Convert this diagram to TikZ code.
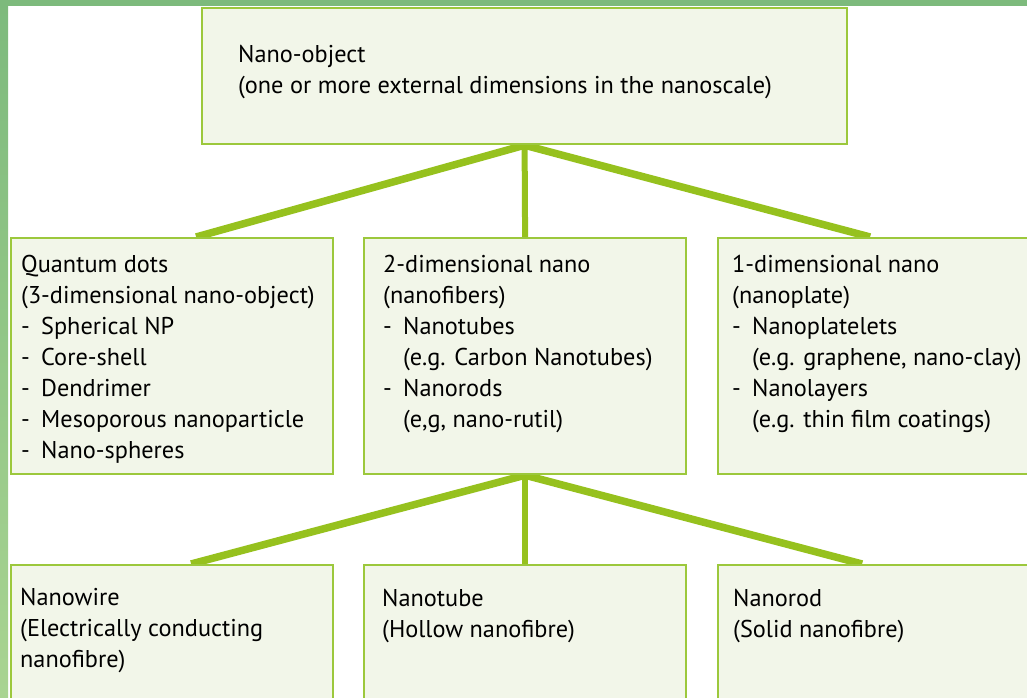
\documentclass[tikz,border=0pt]{standalone}
\usepackage{fontspec}
\setmainfont{PT Sans}
\usetikzlibrary{backgrounds}
\definecolor{band}{HTML}{7DBA7C}
\definecolor{bandlight}{HTML}{A9D492}
\definecolor{conn}{HTML}{96C11E}
\definecolor{boxline}{HTML}{9CC83C}
\definecolor{boxfill}{HTML}{F2F6E9}
\newcommand{\txtlines}[1]{\begin{tabular}[t]{@{}l@{}}#1\end{tabular}}
\newcommand{\itm}{\makebox[20pt][l]{-}}
\newcommand{\cnt}{\hspace*{20pt}}
\tikzset{
  boxnode/.style={draw=boxline, fill=boxfill, line width=2.2pt, rectangle, inner sep=0pt, anchor=north west},
  txt/.style={anchor=base west, inner sep=0pt, font=\fontsize{24.3}{31}\selectfont, text=black},
  connline/.style={draw=conn, line width=7.5pt},
  vconn/.style={draw=conn, line width=6pt},
}
\begin{document}
\begin{tikzpicture}[x=1pt,y=-1pt]
\useasboundingbox (0,0) rectangle (1027,698);
\clip (0,0) rectangle (1027,698);
\fill[band] (0,0) rectangle (1027,6);
\shade[top color=band, bottom color=bandlight] (0,0) rectangle (8,698);

\node[boxnode, minimum width=645pt, minimum height=136pt] (top) at (201,7) {};
\node[boxnode, minimum width=322pt, minimum height=236pt] (qd) at (10,237) {};
\node[boxnode, minimum width=322pt, minimum height=236pt] (two) at (363,237) {};
\node[boxnode, minimum width=330pt, minimum height=236pt] (one) at (717,237) {};
\node[boxnode, minimum width=322pt, minimum height=160pt] (wire) at (10,564) {};
\node[boxnode, minimum width=322pt, minimum height=160pt] (tube) at (363,564) {};
\node[boxnode, minimum width=330pt, minimum height=160pt] (rod) at (717,564) {};

\node[txt] (ttop) at (238,63) {\txtlines{Nano-object\\(one or more external dimensions in the nanoscale)}};
\node[txt] (tqd) at (21,272) {\txtlines{Quantum dots\\(3-dimensional nano-object)\\\itm Spherical NP\\\itm Core-shell\\\itm Dendrimer\\\itm Mesoporous nanoparticle\\\itm Nano-spheres}};
\node[txt] (ttwo) at (383,272) {\txtlines{2-dimensional nano\\(nanofibers)\\\itm Nanotubes\\\cnt(e.g. Carbon Nanotubes)\\\itm Nanorods\\\cnt(e,g, nano-rutil)}};
\node[txt] (tone) at (732,272) {\txtlines{1-dimensional nano\\(nanoplate)\\\itm Nanoplatelets\\\cnt(e.g. graphene, nano-clay)\\\itm Nanolayers\\\cnt(e.g. thin film coatings)}};
\node[txt] (twire) at (20,605) {\txtlines{Nanowire\\(Electrically conducting\\nanofibre)}};
\node[txt] (ttube) at (382,606) {\txtlines{Nanotube\\(Hollow nanofibre)}};
\node[txt] (trod) at (733,606) {\txtlines{Nanorod\\(Solid nanofibre)}};

\begin{pgfonlayer}{background}
\draw[connline] (top.south) -- ([xshift=24pt]qd.north);
\draw[vconn] (top.south) -- (two.north);
\draw[connline] (top.south) -- ([xshift=-13pt]one.north);
\draw[connline] (two.south) -- ([xshift=19pt]wire.north);
\draw[vconn] (two.south) -- (tube.north);
\draw[connline] (two.south) -- ([xshift=-21pt]rod.north);
\end{pgfonlayer}
\end{tikzpicture}
\end{document}
